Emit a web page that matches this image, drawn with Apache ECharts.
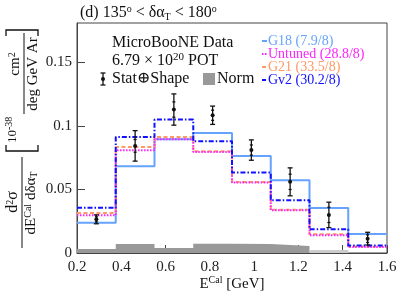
<!DOCTYPE html>
<html><head><meta charset="utf-8">
<script src="https://cdn.jsdelivr.net/npm/echarts@6/dist/echarts.min.js"></script>
<style>html,body{margin:0;padding:0;background:#fff}#c{width:407px;height:295px}</style>
</head><body><div id="c"></div>
<script>
// ---- data ----
const binEdges = [0.2, 0.375, 0.55, 0.725, 0.9, 1.075, 1.25, 1.425, 1.6];
const binCenters = [0.2875, 0.4625, 0.6375, 0.8125, 0.9875, 1.1625, 1.3375, 1.5125];
const dataValues = [0.0265, 0.0843, 0.1129, 0.1084, 0.0810, 0.0560, 0.0300, 0.0113];
const dataTotErr = [0.0035, 0.0120, 0.0123, 0.0072, 0.0080, 0.0110, 0.0100, 0.0050];
const dataStatErr = [0.0020, 0.0050, 0.0060, 0.0040, 0.0040, 0.0060, 0.0060, 0.0030];
const g18 = [0.0239, 0.0682, 0.0895, 0.0945, 0.0764, 0.0572, 0.0354, 0.0150];
const untuned = [0.0297, 0.0808, 0.0895, 0.0795, 0.0554, 0.0336, 0.0139, 0.0047];
const g21 = [0.0315, 0.0835, 0.0913, 0.0800, 0.0559, 0.0341, 0.0147, 0.0052];
const gv2 = [0.0357, 0.0913, 0.1050, 0.0879, 0.0633, 0.0415, 0.0186, 0.0060];
const normBand = [0.0031, 0.0071, 0.0039, 0.0073, 0.0070, 0.0055, 0.0024, 0.0000];
const xTicks = [0.2, 0.4, 0.6, 0.8, 1.0, 1.2, 1.4, 1.6];
const yTicks = [0, 0.05, 0.1, 0.15];
const legendNames = ['G18 (7.9/8)', 'Untuned (28.8/8)', 'G21 (33.5/8)', 'Gv2 (30.2/8)'];

const FONT = '"Liberation Serif", "DejaVu Serif", serif';
const C_G18 = '#66a3ff', C_UNT = '#ff22ff', C_G21 = '#ff9966', C_GV2 = '#1010ff';

function stepData(vals) {
  const d = vals.map((v, i) => [binEdges[i], v]);
  d.push([binEdges[vals.length], vals[vals.length - 1]]);
  return d;
}
function stepRange(vals, from, to) {
  const d = [];
  for (let i = from; i < to; i++) d.push([binEdges[i], vals[i]]);
  d.push([binEdges[to], vals[to - 1]]);
  return d;
}

const chart = echarts.init(document.getElementById('c'), null, {renderer: 'canvas'});

const histLine = (name, vals, color, type, width, z) => ({
  name, type: 'line', step: 'end', data: stepData(vals), symbol: 'none', z,
  lineStyle: {color, type, width}, silent: true, animation: false
});

const errData = binCenters.map((x, i) => [x, dataValues[i], dataTotErr[i], dataStatErr[i]]);

const option = {
  animation: false,
  grid: {left: 77, right: 20, top: 23, bottom: 42, show: true, borderColor: '#444', borderWidth: 1, backgroundColor: 'transparent'},
  xAxis: {
    type: 'value', min: 0.2, max: 1.6, interval: 0.2,
    axisLine: {lineStyle: {color: '#444'}},
    axisTick: {inside: true, length: 8, lineStyle: {color: '#444'}},
    splitLine: {show: false},
    axisLabel: {fontFamily: FONT, fontSize: 15, color: '#222', margin: 7,
      formatter: v => String(+v.toFixed(1))}
  },
  yAxis: {
    type: 'value', min: 0, max: 0.181, interval: 0.05,
    axisLine: {show: true, lineStyle: {color: '#444'}},
    axisTick: {inside: true, length: 8, lineStyle: {color: '#444'}},
    splitLine: {show: false},
    axisLabel: {fontFamily: FONT, fontSize: 15, color: '#222', margin: 5,
      showMaxLabel: false,
      formatter: v => yTicks.some(t => Math.abs(t - v) < 1e-9) ? String(+v.toFixed(2)) : ''}
  },
  series: [
    {type: 'line', step: 'end', data: stepRange(normBand, 0, 6), symbol: 'none', z: 1,
      lineStyle: {width: 0}, areaStyle: {color: '#999999', opacity: 1}, silent: true},
    {type: 'line', step: 'end', data: stepRange(normBand, 6, 8), symbol: 'none', z: 1,
      lineStyle: {width: 0}, areaStyle: {color: '#cccccc', opacity: 1}, silent: true},
    histLine('G18', g18, C_G18, 'solid', 2, 2),
    histLine('G21', g21, C_G21, [4, 2.5], 2, 3),
    histLine('Untuned', untuned, C_UNT, [1.5, 1.5], 2, 4),
    histLine('Gv2', gv2, C_GV2, [5, 2, 1.5, 2], 2, 5),
    {
      type: 'custom', z: 10, data: errData, silent: true,
      renderItem: (params, api) => {
        const x = api.value(0), y = api.value(1), e = api.value(2), s = api.value(3);
        const p = api.coord([x, y]);
        const hi = api.coord([x, y + e]), lo = api.coord([x, y - e]);
        const shi = api.coord([x, y + s]), slo = api.coord([x, y - s]);
        const st = {stroke: '#111', lineWidth: 1.3};
        const w = 2.5;
        return {type: 'group', children: [
          {type: 'line', shape: {x1: p[0], y1: hi[1], x2: p[0], y2: lo[1]}, style: st},
          {type: 'line', shape: {x1: p[0] - w, y1: hi[1], x2: p[0] + w, y2: hi[1]}, style: st},
          {type: 'line', shape: {x1: p[0] - w, y1: lo[1], x2: p[0] + w, y2: lo[1]}, style: st},
          {type: 'line', shape: {x1: p[0] - 1.5, y1: shi[1], x2: p[0] + 1.5, y2: shi[1]}, style: st},
          {type: 'line', shape: {x1: p[0] - 1.5, y1: slo[1], x2: p[0] + 1.5, y2: slo[1]}, style: st},
          {type: 'circle', shape: {cx: p[0], cy: p[1], r: 2}, style: {fill: '#111'}}
        ]};
      }
    }
  ],
  graphic: [
    // title
    {type: 'text', x: 80, y: 13, style: {
      text: '{n|(d) 135}{sup|o}{n| < δα}{sub|T}{n| < 180}{sup|o}',
      textVerticalAlign: 'middle', fill: '#111',
      rich: {
        n: {fontFamily: FONT, fontSize: 16, color: '#111', lineHeight: 18},
        sup: {fontFamily: FONT, fontSize: 10, color: '#111', verticalAlign: 'top', lineHeight: 18, padding: [0, 0, 6, 0]},
        sub: {fontFamily: FONT, fontSize: 10, color: '#111', verticalAlign: 'bottom', lineHeight: 18, padding: [6, 0, 0, 0]}
      }}},
    // x title
    {type: 'text', x: 232, y: 284, style: {
      text: '{n|E}{sup|Cal}{n| [GeV]}', textAlign: 'center', textVerticalAlign: 'middle', fill: '#111',
      rich: {
        n: {fontFamily: FONT, fontSize: 15, color: '#111', lineHeight: 18},
        sup: {fontFamily: FONT, fontSize: 10, color: '#111', verticalAlign: 'top', lineHeight: 18, padding: [0, 0, 6, 0]}
      }}},
    // y title (rotated group)
    {type: 'group', x: 0, y: 252, rotation: Math.PI / 2, children: [
      {type: 'text', x: 50, y: 13, style: {text: '{n|d}{sup|2}{n|σ}', textAlign: 'center', textVerticalAlign: 'middle', fill: '#111',
        rich: {n: {fontFamily: FONT, fontSize: 16, color: '#111', lineHeight: 16},
               sup: {fontFamily: FONT, fontSize: 10, color: '#111', verticalAlign: 'top', lineHeight: 16, padding: [0, 0, 5, 0]}}}},
      {type: 'line', shape: {x1: 4, y1: 22, x2: 95, y2: 22}, style: {stroke: '#111', lineWidth: 1}},
      {type: 'text', x: 49, y: 31, style: {text: '{n|dE}{sup|Cal}{n| dδα}{sub|T}', textAlign: 'center', textVerticalAlign: 'middle', fill: '#111',
        rich: {n: {fontFamily: FONT, fontSize: 15, color: '#111', lineHeight: 16},
               sup: {fontFamily: FONT, fontSize: 10, color: '#111', verticalAlign: 'top', lineHeight: 16, padding: [0, 0, 5, 0]},
               sub: {fontFamily: FONT, fontSize: 10, color: '#111', verticalAlign: 'bottom', lineHeight: 16, padding: [5, 0, 0, 0]}}}},
      {type: 'polyline', shape: {points: [[107, 6], [101, 6], [101, 38], [107, 38]]}, style: {stroke: '#111', lineWidth: 1.3, fill: null}},
      {type: 'text', x: 122, y: 13, style: {text: '10', textAlign: 'right', textVerticalAlign: 'middle', fontFamily: FONT, fontSize: 13, fill: '#111'}},
      {type: 'text', x: 122, y: 9, style: {text: '-38', textAlign: 'left', textVerticalAlign: 'middle', fontFamily: FONT, fontSize: 10, fill: '#111'}},
      {type: 'text', x: 188, y: 15, style: {text: '{n|cm}{sup|2}', textAlign: 'center', textVerticalAlign: 'middle', fill: '#111',
        rich: {n: {fontFamily: FONT, fontSize: 15, color: '#111', lineHeight: 16},
               sup: {fontFamily: FONT, fontSize: 10, color: '#111', verticalAlign: 'top', lineHeight: 16, padding: [0, 0, 5, 0]}}}},
      {type: 'line', shape: {x1: 138, y1: 24, x2: 219, y2: 24}, style: {stroke: '#111', lineWidth: 1}},
      {type: 'text', x: 178, y: 33, style: {text: 'deg GeV Ar', textAlign: 'center', textVerticalAlign: 'middle', fontFamily: FONT, fontSize: 15, fill: '#111'}},
      {type: 'polyline', shape: {points: [[216, 6], [222, 6], [222, 38], [216, 38]]}, style: {stroke: '#111', lineWidth: 1.3, fill: null}}
    ]},
    // data legend
    {type: 'text', x: 112, y: 43, style: {text: 'MicroBooNE Data', textVerticalAlign: 'middle', fontFamily: FONT, fontSize: 16, fill: '#111'}},
    {type: 'text', x: 112, y: 61, style: {
      text: '{n|6.79 × 10}{sup|20}{n| POT}', textVerticalAlign: 'middle', fill: '#111',
      rich: {n: {fontFamily: FONT, fontSize: 16, color: '#111', lineHeight: 18},
             sup: {fontFamily: FONT, fontSize: 11, color: '#111', verticalAlign: 'top', lineHeight: 18, padding: [0, 0, 6, 0]}}}},
    {type: 'group', children: [
      {type: 'line', shape: {x1: 103, y1: 73, x2: 103, y2: 85}, style: {stroke: '#111', lineWidth: 1.3}},
      {type: 'line', shape: {x1: 100.5, y1: 73, x2: 105.5, y2: 73}, style: {stroke: '#111', lineWidth: 1.3}},
      {type: 'line', shape: {x1: 100.5, y1: 85, x2: 105.5, y2: 85}, style: {stroke: '#111', lineWidth: 1.3}},
      {type: 'circle', shape: {cx: 103, cy: 79, r: 2}, style: {fill: '#111'}}
    ]},
    {type: 'text', x: 112, y: 79, style: {text: 'Stat⊕Shape', textVerticalAlign: 'middle', fontFamily: FONT, fontSize: 16, fill: '#111'}},
    {type: 'rect', shape: {x: 203, y: 73, width: 12, height: 12}, style: {fill: '#999999'}},
    {type: 'text', x: 217, y: 79, style: {text: 'Norm', textVerticalAlign: 'middle', fontFamily: FONT, fontSize: 16, fill: '#111'}},
    // model legend
    {type: 'line', shape: {x1: 262, y1: 41, x2: 267, y2: 41}, style: {stroke: C_G18, lineWidth: 2}},
    {type: 'text', x: 268, y: 41, style: {text: legendNames[0], textVerticalAlign: 'middle', fontFamily: FONT, fontSize: 14, fill: C_G18}},
    {type: 'line', shape: {x1: 262, y1: 54, x2: 267, y2: 54}, style: {stroke: C_UNT, lineWidth: 2, lineDash: [1.5, 1.5]}},
    {type: 'text', x: 268, y: 54, style: {text: legendNames[1], textVerticalAlign: 'middle', fontFamily: FONT, fontSize: 14, fill: C_UNT}},
    {type: 'line', shape: {x1: 262, y1: 67, x2: 266, y2: 67}, style: {stroke: C_G21, lineWidth: 2}},
    {type: 'text', x: 268, y: 67, style: {text: legendNames[2], textVerticalAlign: 'middle', fontFamily: FONT, fontSize: 14, fill: C_G21}},
    {type: 'line', shape: {x1: 262, y1: 80, x2: 266, y2: 80}, style: {stroke: C_GV2, lineWidth: 2}},
    {type: 'text', x: 268, y: 80, style: {text: legendNames[3], textVerticalAlign: 'middle', fontFamily: FONT, fontSize: 14, fill: C_GV2}}
  ]
};
chart.setOption(option);
</script>
</body></html>
